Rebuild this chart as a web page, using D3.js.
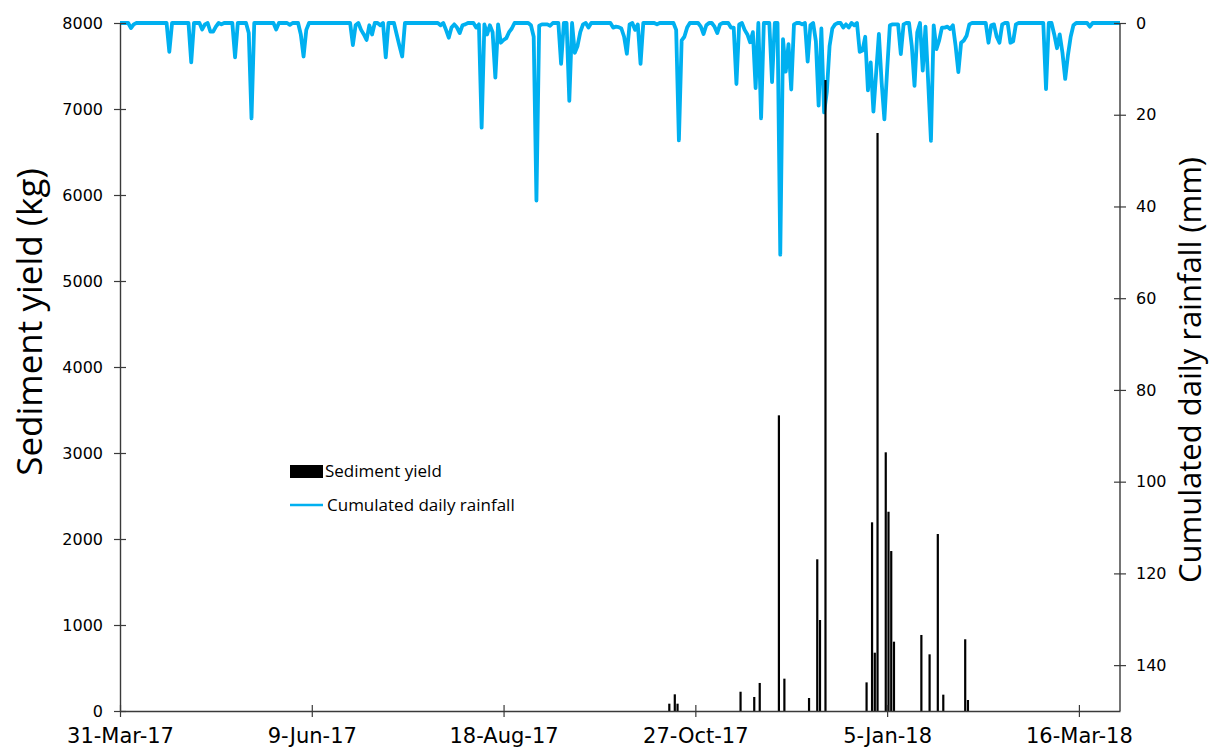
<!DOCTYPE html>
<html>
<head>
<meta charset="utf-8">
<script src="https://cdn.jsdelivr.net/npm/d3@7"></script>
<style>
  body { margin: 0; background: #fff; }
  svg { display: block; }
  .tick-lbl { font-family: "DejaVu Sans", sans-serif; fill: #000; }
  .title { font-family: "Open Sans", sans-serif; fill: #000; }
</style>
</head>
<body>
<div id="chart"></div>
<script>
// ---- data ----
// sediment yield per event day (kg)
const sedDates = ['2017-10-17','2017-10-19','2017-10-20','2017-11-12','2017-11-17','2017-11-19',
  '2017-11-26','2017-11-28','2017-12-07','2017-12-10','2017-12-11','2017-12-13','2017-12-28',
  '2017-12-30','2017-12-31','2018-01-01','2018-01-04','2018-01-05','2018-01-06','2018-01-07',
  '2018-01-17','2018-01-20','2018-01-23','2018-01-25','2018-02-02','2018-02-03'];
const sedKg = [85, 194, 85, 224, 163, 326,
  3438, 376, 151, 1764, 1058, 7337, 333,
  2194, 678, 6721, 3008, 2317, 1860, 806,
  884, 659, 2058, 190, 834, 128];

// daily rainfall (mm), wet days only -- every other day of the record is 0
const rainDates = ['2017-04-04','2017-04-05','2017-04-18','2017-04-26','2017-04-30','2017-05-01',
  '2017-05-03','2017-05-04','2017-05-05','2017-05-07','2017-05-12','2017-05-17','2017-05-18',
  '2017-05-27','2017-06-01','2017-06-05','2017-06-06','2017-06-07','2017-06-24','2017-06-25',
  '2017-06-27','2017-06-28','2017-06-29','2017-06-30','2017-07-01','2017-07-04','2017-07-06',
  '2017-07-10','2017-07-11','2017-07-12','2017-07-26','2017-07-28','2017-07-29','2017-07-30',
  '2017-07-31','2017-08-01','2017-08-02','2017-08-03','2017-08-04','2017-08-08','2017-08-09',
  '2017-08-10','2017-08-11','2017-08-12','2017-08-13','2017-08-14','2017-08-15','2017-08-16',
  '2017-08-17','2017-08-18','2017-08-19','2017-08-20','2017-08-21','2017-08-28','2017-08-29',
  '2017-08-30','2017-08-31','2017-09-01','2017-09-02','2017-09-03','2017-09-04','2017-09-08',
  '2017-09-11','2017-09-13','2017-09-14','2017-09-15','2017-09-16','2017-09-18','2017-09-27',
  '2017-09-28','2017-09-29','2017-09-30','2017-10-01','2017-10-02','2017-10-03','2017-10-05',
  '2017-10-06','2017-10-07','2017-10-13','2017-10-20','2017-10-21','2017-10-22','2017-10-23',
  '2017-10-24','2017-10-29','2017-10-30','2017-10-31','2017-11-03','2017-11-04','2017-11-05',
  '2017-11-09','2017-11-10','2017-11-11','2017-11-12','2017-11-14','2017-11-15','2017-11-16',
  '2017-11-17','2017-11-18','2017-11-20','2017-11-24','2017-11-27','2017-11-28','2017-11-29',
  '2017-11-30','2017-12-01','2017-12-02','2017-12-05','2017-12-07','2017-12-08','2017-12-10',
  '2017-12-11','2017-12-12','2017-12-13','2017-12-14','2017-12-15','2017-12-16','2017-12-17',
  '2017-12-20','2017-12-21','2017-12-22','2017-12-24','2017-12-26','2017-12-27','2017-12-28',
  '2017-12-29','2017-12-30','2017-12-31','2018-01-01','2018-01-02','2018-01-03','2018-01-04',
  '2018-01-05','2018-01-06','2018-01-07','2018-01-08','2018-01-09','2018-01-10','2018-01-11',
  '2018-01-14','2018-01-15','2018-01-16','2018-01-18','2018-01-19','2018-01-20','2018-01-21',
  '2018-01-22','2018-01-23','2018-01-24','2018-01-25','2018-01-26','2018-01-27','2018-01-28',
  '2018-01-29','2018-01-30','2018-01-31','2018-02-01','2018-02-02','2018-02-03','2018-02-04',
  '2018-02-11','2018-02-12','2018-02-13','2018-02-14','2018-02-15','2018-02-16','2018-02-19',
  '2018-02-20','2018-02-21','2018-03-04','2018-03-07','2018-03-08','2018-03-09','2018-03-10',
  '2018-03-11','2018-03-12','2018-03-13','2018-03-14','2018-03-20'];
const rainMm = [1.1, 0.3, 6.3, 8.6, 1.4, 0.3,
  1.9, 1.9, 0.8, 0.3, 7.5, 2.2, 20.8,
  1.4, 0.4, 2.5, 7.3, 1.5, 4.8, 0.5,
  1.5, 2.5, 3.7, 0.5, 2.5, 0.5, 7.5,
  2.5, 5.0, 7.3, 0.5, 1.5, 3.2, 1.0,
  0.3, 1.0, 2.2, 0.5, 0.3, 1.0, 0.3,
  22.8, 0.3, 2.5, 0.5, 2.0, 11.9, 0.3,
  4.3, 3.7, 3.3, 2.0, 1.2, 0.5, 3.0,
  38.7, 0.6, 0.3, 0.3, 0.3, 0.6, 8.9,
  17.0, 6.5, 5.0, 2.0, 0.3, 1.0, 1.0,
  0.8, 0.9, 1.2, 3.0, 6.7, 0.3, 1.5,
  0.3, 8.9, 0.3, 1.5, 25.6, 3.8, 3.0,
  1.0, 0.8, 2.4, 0.5, 0.8, 2.2, 0.3,
  1.0, 1.0, 13.3, 0.3, 1.5, 2.5, 4.2,
  2.0, 14.2, 20.8, 12.9, 50.5, 3.5, 10.6,
  4.6, 14.5, 0.3, 0.3, 8.4, 0.5, 4.0,
  18.0, 1.2, 19.5, 15.0, 5.0, 1.2, 0.3,
  1.0, 0.3, 1.0, 0.5, 6.3, 6.0, 3.0,
  14.7, 8.6, 19.3, 10.8, 2.4, 13.0, 21.0,
  10.3, 0.5, 0.3, 0.3, 0.3, 6.8, 0.3,
  5.0, 13.7, 2.0, 10.4, 0.8, 13.0, 25.7,
  0.5, 5.7, 3.8, 1.0, 1.0, 0.8, 1.3,
  0.5, 5.0, 10.7, 4.3, 3.8, 2.8, 0.3,
  4.3, 0.5, 0.3, 3.0, 4.3, 0.3, 4.3,
  4.0, 0.3, 14.4, 2.5, 5.5, 2.5, 6.5,
  12.2, 7.0, 3.0, 0.5, 0.8];

const period = ['2017-03-31', '2018-03-31'];
const xTickDates = ['2017-03-31','2017-06-09','2017-08-18','2017-10-27','2018-01-05','2018-03-16'];
const xTickLabels = ['31-Mar-17','9-Jun-17','18-Aug-17','27-Oct-17','5-Jan-18','16-Mar-18'];
const sedTicks = [0, 1000, 2000, 3000, 4000, 5000, 6000, 7000, 8000];
const rainTicks = [0, 20, 40, 60, 80, 100, 120, 140];

// ---- layout ----
const W = 1212, H = 748;
const M = { top: 23, right: 92, bottom: 37, left: 120 };
const innerW = W - M.left - M.right, innerH = H - M.top - M.bottom;
const AXIS = '#3a3a3a', BLUE = '#00b0f0';

const parse = d3.utcParse('%Y-%m-%d');
const svg = d3.select('#chart').append('svg').attr('width', W).attr('height', H);
const g = svg.append('g').attr('transform', `translate(${M.left},${M.top})`);

const x = d3.scaleUtc().domain(period.map(parse)).range([0, innerW]);
const ySed = d3.scaleLinear().domain([0, 8000]).range([innerH, 0]);
const yRain = d3.scaleLinear().domain([0, 150]).range([0, innerH]);   // inverted: 0 at top
const dayW = x(d3.utcDay.offset(x.domain()[0], 1)) - x(x.domain()[0]);

// daily rainfall record over the whole period
const wet = new Map(rainDates.map((d, i) => [d, rainMm[i]]));
const fmtDay = d3.utcFormat('%Y-%m-%d');
const daily = d3.utcDay.range(x.domain()[0], d3.utcDay.offset(x.domain()[1], 1))
  .map(d => ({ date: d, mm: wet.get(fmtDay(d)) || 0 }));

g.append('path')
  .datum(daily)
  .attr('fill', 'none')
  .attr('stroke', BLUE)
  .attr('stroke-width', 3.8)
  .attr('stroke-linejoin', 'round')
  .attr('d', d3.line().x(d => x(d.date)).y(d => yRain(d.mm)));

const sed = sedDates.map((d, i) => ({ date: parse(d), kg: sedKg[i] }));
g.append('g').selectAll('rect').data(sed).join('rect')
  .attr('x', d => x(d.date) + dayW / 2 - 1.1)
  .attr('width', 2.2)
  .attr('y', d => ySed(d.kg))
  .attr('height', d => innerH - ySed(d.kg))
  .attr('fill', '#000');

// ---- axes (cross tick marks) ----
function crossAxis(axis) {
  return sel => {
    sel.call(axis);
    sel.select('.domain').attr('stroke', AXIS).attr('stroke-width', 1.4);
    sel.selectAll('.tick line').attr('stroke', AXIS).attr('stroke-width', 1.2);
  };
}

const xAxis = g.append('g').attr('transform', `translate(0,${innerH})`)
  .call(crossAxis(d3.axisBottom(x).tickValues(xTickDates.map(parse))
    .tickFormat((d, i) => xTickLabels[i]).tickSizeInner(6).tickSizeOuter(0).tickPadding(11)));
xAxis.selectAll('.tick line').attr('y1', -6);
xAxis.selectAll('.tick text').attr('class', 'tick-lbl').style('font-size', '21px');

const yAxis = g.append('g')
  .call(crossAxis(d3.axisLeft(ySed).tickValues(sedTicks).tickFormat(d3.format('d'))
    .tickSizeInner(6).tickSizeOuter(0).tickPadding(11)));
yAxis.selectAll('.tick line').attr('x1', 6);
yAxis.selectAll('.tick text').attr('class', 'tick-lbl').style('font-size', '16px');

const rAxis = g.append('g').attr('transform', `translate(${innerW},0)`)
  .call(crossAxis(d3.axisRight(yRain).tickValues(rainTicks).tickSizeInner(6).tickSizeOuter(0).tickPadding(10)));
rAxis.selectAll('.tick line').attr('x1', -6);
rAxis.selectAll('.tick text').attr('class', 'tick-lbl').style('font-size', '16px');
// the right axis ends at 150 without a tick
rAxis.select('.domain').attr('d', `M0,0V${innerH}`);

svg.append('text').attr('class', 'title')
  .attr('transform', 'translate(42,322) rotate(-90)')
  .attr('text-anchor', 'middle').style('font-size', '35px')
  .text('Sediment yield (kg)');

svg.append('text').attr('class', 'title')
  .attr('transform', 'translate(1201,370) rotate(-90)')
  .attr('text-anchor', 'middle').style('font-size', '31px')
  .text('Cumulated daily rainfall (mm)');

// ---- legend ----
const lg = svg.append('g').attr('transform', 'translate(290,465)');
lg.append('rect').attr('width', 33).attr('height', 13).attr('fill', '#000');
lg.append('text').attr('class', 'title').attr('x', 35).attr('y', 12)
  .style('font-size', '17px').text('Sediment yield');
lg.append('line').attr('x1', 0).attr('x2', 33).attr('y1', 40).attr('y2', 40)
  .attr('stroke', BLUE).attr('stroke-width', 2.5);
lg.append('text').attr('class', 'title').attr('x', 37).attr('y', 46)
  .style('font-size', '17px').text('Cumulated daily rainfall');
</script>
</body>
</html>
